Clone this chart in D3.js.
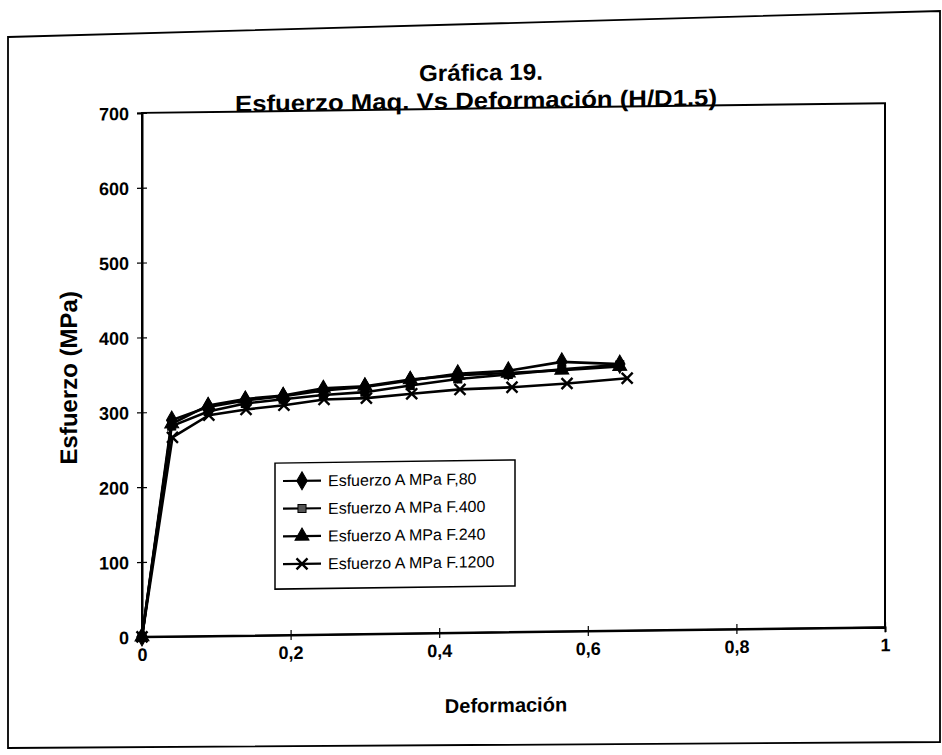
<!DOCTYPE html>
<html><head><meta charset="utf-8">
<script src="https://cdn.jsdelivr.net/npm/d3@7"></script>
<style>body{margin:0;background:#fff} svg{display:block}</style>
</head><body>
<svg id="c" width="942" height="755"></svg>
<script>
// ---- data ----
const deformacion      = [0, 0.040, 0.089, 0.139, 0.190, 0.244, 0.300, 0.361, 0.425, 0.493, 0.565, 0.643];
const deformacionF1200 = [0, 0.041, 0.090, 0.140, 0.191, 0.245, 0.302, 0.363, 0.428, 0.498, 0.572, 0.653];
const esfuerzoF80   = [0, 289, 306, 314, 319, 326, 330, 338, 346, 349, 360, 356];
const esfuerzoF400  = [0, 281, 300, 310, 315, 320, 323, 331, 339, 344, 350, 355];
const esfuerzoF240  = [0, 284, 308, 316, 320, 329, 331, 339, 344, 346, 349, 353];
const esfuerzoF1200 = [0, 266, 295, 302, 307, 314, 315, 320, 325, 327, 331, 337];
const seriesNames = ["Esfuerzo A MPa F,80", "Esfuerzo A MPa F.400", "Esfuerzo A MPa F.240", "Esfuerzo A MPa F.1200"];
const seriesMarkers = ["diamond", "square", "triangle", "x"];
const xTicks = [0, 0.2, 0.4, 0.6, 0.8, 1];
const xTickLabels = ["0", "0,2", "0,4", "0,6", "0,8", "1"];
const yTicks = [0, 100, 200, 300, 400, 500, 600, 700];
const yTickLabels = ["0", "100", "200", "300", "400", "500", "600", "700"];
const titleLines = ["Gráfica 19.", "Esfuerzo Maq. Vs Deformación (H/D1.5)"];
const xTitle = "Deformación";
const yTitle = "Esfuerzo (MPa)";

const series = [
  {name: seriesNames[0], marker: seriesMarkers[0], xs: deformacion, ys: esfuerzoF80},
  {name: seriesNames[1], marker: seriesMarkers[1], xs: deformacion, ys: esfuerzoF400},
  {name: seriesNames[2], marker: seriesMarkers[2], xs: deformacion, ys: esfuerzoF240},
  {name: seriesNames[3], marker: seriesMarkers[3], xs: deformacionF1200, ys: esfuerzoF1200}
];

// ---- layout ----
const FONT = "'Liberation Sans', Arial, sans-serif";
const plot = {left: 142, right: 885, top: 108, bottom: 632};
const svg = d3.select("#c");

// outer frame of the scanned page
svg.append("path")
  .attr("d", "M8,37 L940,11 L940,742 L8,748 Z")
  .attr("fill", "none").attr("stroke", "#000").attr("stroke-width", 1.8);

const g = svg.append("g")
  .attr("transform", "translate(514,0) skewY(-0.75) translate(-514,0)");

const x = d3.scaleLinear().domain([0, 1]).range([plot.left, plot.right]);
const y = d3.scaleLinear().domain([0, 700]).range([plot.bottom, plot.top]);

// plot frame
g.append("rect")
  .attr("x", plot.left).attr("y", plot.top)
  .attr("width", plot.right - plot.left).attr("height", plot.bottom - plot.top)
  .attr("fill", "none").attr("stroke", "#000").attr("stroke-width", 2);

// y axis
const yAxis = g.append("g").attr("transform", `translate(${plot.left},0)`)
  .call(d3.axisLeft(y).tickValues(yTicks).tickSize(5).tickFormat((d, i) => yTickLabels[i]).tickPadding(8));
yAxis.select(".domain").attr("stroke-width", 2);
yAxis.selectAll(".tick line").attr("x2", 5).attr("x1", -5).attr("stroke-width", 1.2);
yAxis.selectAll(".tick text")
  .attr("x", -13).attr("dy", "0.36em")
  .style("font-family", FONT).style("font-size", "18px").style("font-weight", "bold").attr("fill", "#000");

// x axis
const xAxis = g.append("g").attr("transform", `translate(0,${plot.bottom})`)
  .call(d3.axisBottom(x).tickValues(xTicks).tickSize(5).tickFormat((d, i) => xTickLabels[i]));
xAxis.select(".domain").attr("stroke-width", 2);
xAxis.selectAll(".tick line").attr("y1", -5).attr("y2", 5).attr("stroke-width", 1.2);
xAxis.selectAll(".tick text")
  .attr("y", 24).attr("dy", 0)
  .style("font-family", FONT).style("font-size", "18px").style("font-weight", "bold").attr("fill", "#000");

// titles
g.append("text").attr("x", 481).attr("y", 80).attr("text-anchor", "middle")
  .attr("textLength", 124).attr("lengthAdjust", "spacingAndGlyphs")
  .style("font-family", FONT).style("font-size", "23px").style("font-weight", "bold")
  .text(titleLines[0]);
g.append("text").attr("x", 476).attr("y", 108).attr("text-anchor", "middle")
  .attr("textLength", 482).attr("lengthAdjust", "spacingAndGlyphs")
  .style("font-family", FONT).style("font-size", "23px").style("font-weight", "bold")
  .text(titleLines[1]);
g.append("text").attr("x", 506).attr("y", 712).attr("text-anchor", "middle")
  .style("font-family", FONT).style("font-size", "20px").style("font-weight", "bold")
  .text(xTitle);
g.append("text").attr("transform", "translate(77,372) rotate(-90)").attr("text-anchor", "middle")
  .style("font-family", FONT).style("font-size", "24px").style("font-weight", "bold")
  .text(yTitle);

// markers
function drawMarker(sel, type, legend) {
  if (type === "x") {
    const s = 5.5;
    sel.append("path").attr("d", `M${-s},${-s}L${s},${s}M${-s},${s}L${s},${-s}`)
      .attr("stroke", "#000").attr("stroke-width", 2.4).attr("fill", "none");
  } else {
    const sym = type === "diamond" ? d3.symbolDiamond : type === "square" ? d3.symbolSquare : d3.symbolTriangle;
    const size = type === "diamond" ? 95 : type === "square" ? 65 : 85;
    sel.append("path").attr("d", d3.symbol().type(sym).size(size)())
      .attr("fill", (type === "square" && legend) ? "#555" : "#000")
      .attr("stroke", "#000").attr("stroke-width", 1);
  }
}

const line = d3.line().x(d => x(d[0])).y(d => y(d[1]));
series.forEach(s => {
  const pts = s.xs.map((v, i) => [v, s.ys[i]]);
  const sg = g.append("g");
  sg.append("path").attr("d", line(pts)).attr("fill", "none").attr("stroke", "#000").attr("stroke-width", 2.6);
  sg.selectAll("g.m").data(pts).join("g").attr("class", "m")
    .attr("transform", d => `translate(${x(d[0])},${y(d[1])})`)
    .each(function () { drawMarker(d3.select(this), s.marker, false); });
});

// legend
const legend = {left: 275, top: 460, width: 240, height: 126, rowStart: 478, rowStep: 27.7};
g.append("rect").attr("x", legend.left).attr("y", legend.top)
  .attr("width", legend.width).attr("height", legend.height)
  .attr("fill", "#fff").attr("stroke", "#000").attr("stroke-width", 1.5);
series.forEach((s, i) => {
  const ly = legend.rowStart + i * legend.rowStep;
  const lg = g.append("g");
  lg.append("line").attr("x1", legend.left + 8).attr("x2", legend.left + 46)
    .attr("y1", ly).attr("y2", ly).attr("stroke", "#000").attr("stroke-width", 2.2);
  const mg = lg.append("g").attr("transform", `translate(${legend.left + 27},${ly})`);
  drawMarker(mg, s.marker, true);
  lg.append("text").attr("x", legend.left + 53).attr("y", ly).attr("dy", "0.36em")
    .style("font-family", FONT).style("font-size", "16px")
    .text(s.name);
});
</script>
</body></html>
